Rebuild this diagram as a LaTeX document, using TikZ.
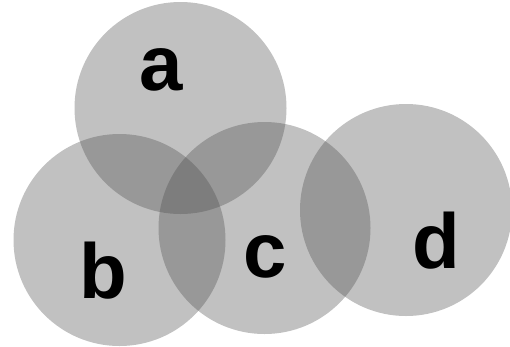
\documentclass[tikz,border=0pt]{standalone}
\usepackage{fontspec}
\setmainfont{Liberation Sans}
\usepackage{tikz}

\begin{document}
\begin{tikzpicture}[
  x = 1pt,
  y = -1pt,
  %inner sep = 0pt,
  ]
  \tikzstyle{set node}=[circle,inner sep=0,minimum size=212pt,fill=black!70,fill opacity=0.35]
  \tikzstyle{set label}=[anchor=base,inner sep=0,font=\fontsize{78}{78}\selectfont\bfseries]
  \useasboundingbox (0,0) rectangle (510,346);
  \node(A)[set node] at (180.5,108){};
  \node(B)[set node] at (119.5,240){};
  \node(C)[set node] at (264.5,228){};
  \node(D)[set node] at (406,210){};
  \node(a)[set label] at (161,90){a};
  \node(b)[set label] at (103,298){b};
  \node(c)[set label] at (265,277){c};
  \node(d)[set label] at (436,268){d};
\end{tikzpicture}
\end{document}
